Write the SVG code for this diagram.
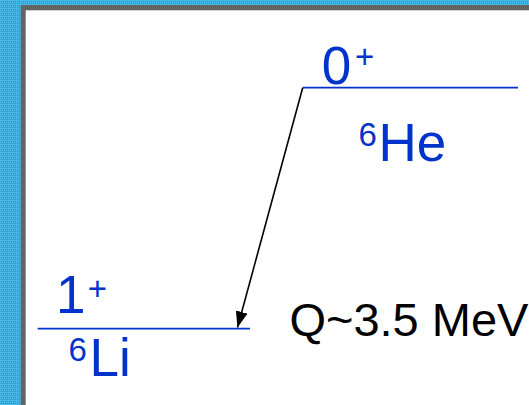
<svg xmlns="http://www.w3.org/2000/svg" width="529" height="405" viewBox="0 0 529 405">
  <style>
    .lvl { stroke: #0033cc; stroke-width: 1.8; fill: none; }
    .lab { font-family: "Liberation Sans", Arial, sans-serif; fill: #0033cc; }
    .big { font-size: 53px; }
    .sup { font-size: 33px; }
    .q { font-family: "Liberation Sans", Arial, sans-serif; fill: #000000; font-size: 47px; }
    .conn { stroke: #000000; stroke-width: 1.6; fill: none; }
  </style>
  <defs>
    <pattern id="dots" width="4" height="4" patternUnits="userSpaceOnUse">
      <rect width="4" height="4" fill="#22a4da"/>
      <rect x="0" y="0" width="4" height="1" fill="#4ab9e8"/>
      <rect x="0" y="0" width="1" height="4" fill="#4ab9e8"/>
      <rect x="2" y="2" width="1" height="1" fill="#80d2f2"/>
    </pattern>
    <marker id="arrow" markerWidth="16" markerHeight="12" refX="16" refY="6" orient="auto" markerUnits="userSpaceOnUse">
      <path d="M0,0 L16,6 L0,12 Z" fill="#000000"/>
    </marker>
  </defs>
  <rect x="0" y="0" width="529" height="405" fill="url(#dots)"/>
  <rect x="20.7" y="5" width="520" height="410" fill="#646464"/>
  <rect x="25.7" y="10.3" width="510" height="400" fill="#ffffff"/>

  <g id="level-he6">
    <line class="lvl" x1="302.7" y1="87.7" x2="518" y2="87.7"/>
    <text class="lab big" x="321.8" y="84">0</text>
    <text class="lab sup" x="355" y="68">+</text>
    <text class="lab sup" x="358.5" y="145.5">6</text>
    <text class="lab big" x="378.5" y="160.5">He</text>
  </g>

  <g id="level-li6">
    <line class="lvl" x1="37.7" y1="328.7" x2="250" y2="328.7"/>
    <text class="lab big" x="55.9" y="313">1</text>
    <text class="lab sup" x="87.7" y="300.4">+</text>
    <text class="lab sup" x="68.6" y="361">6</text>
    <text class="lab big" x="89.5" y="376">Li</text>
  </g>

  <g id="qvalue">
    <text class="q" x="289.4" y="336">Q~3.5 MeV</text>
  </g>

  <g id="connectors">
    <line class="conn" x1="302.7" y1="87.7" x2="237.5" y2="327.5" marker-end="url(#arrow)"/>
  </g>
</svg>
